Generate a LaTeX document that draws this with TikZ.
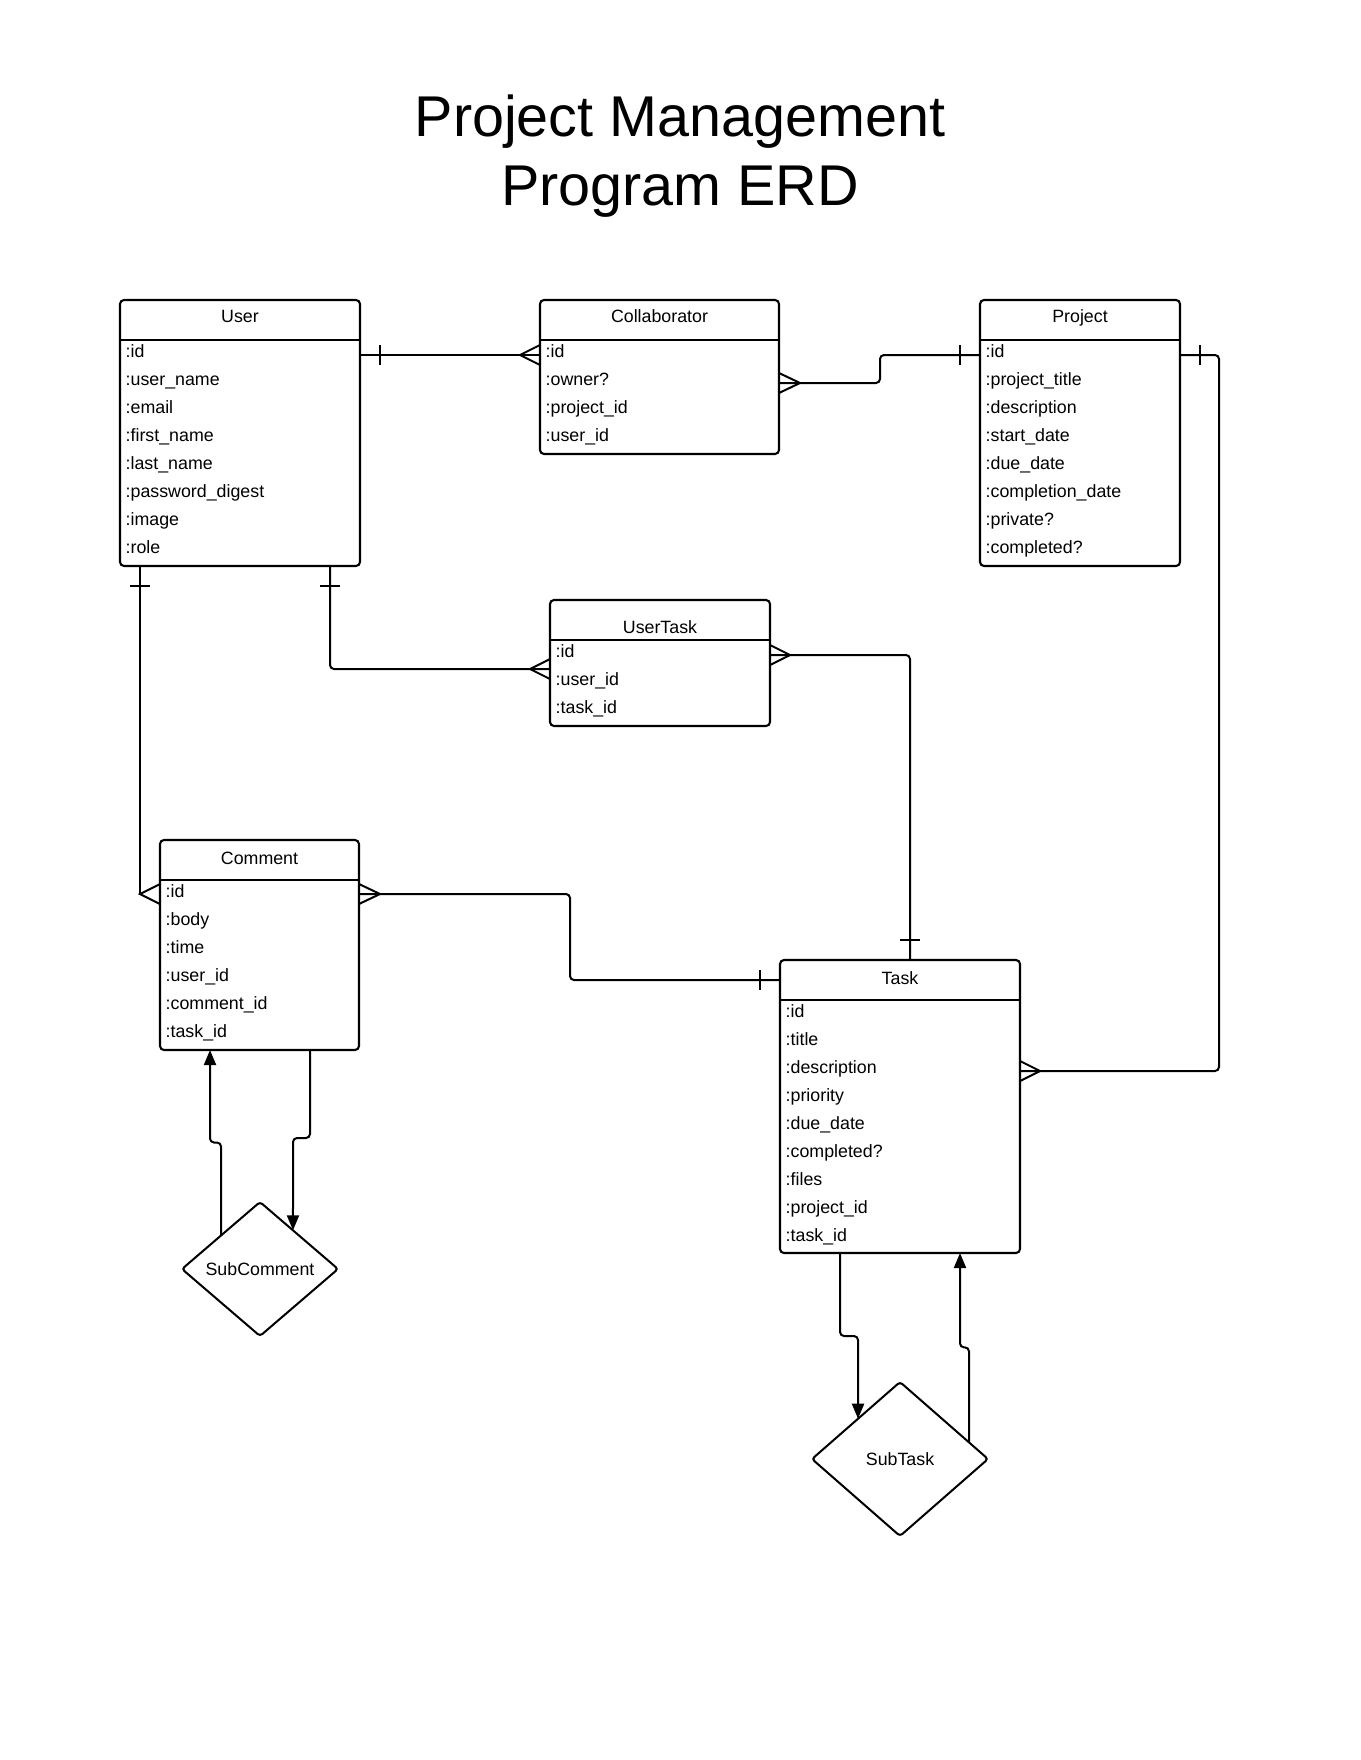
\documentclass[tikz,border=0pt]{standalone}
\usepackage{fontspec}
\setmainfont{Liberation Sans}
\usetikzlibrary{arrows.meta,shapes.geometric,calc}
\tikzset{
  entity/.style={draw, line width=2.1pt, rounded corners=4pt, inner sep=0pt, outer sep=0pt, anchor=north west},
  attr/.style={anchor=base west, inner sep=0pt, font=\fontsize{17.8}{20}\selectfont},
  head/.style={anchor=base, inner sep=0pt, font=\fontsize{17.8}{20}\selectfont},
  conn/.style={line width=2pt, rounded corners=4pt},
  tickmark/.style={line width=2pt},
  crow/.style={line width=2pt, line join=miter},
  arr/.style={line width=2pt, rounded corners=4pt, -{Triangle[length=15pt,width=12pt]}},
  rel/.style={diamond, draw, line width=2pt, rounded corners=3pt, inner sep=0pt, outer sep=0pt, font=\fontsize{17.8}{20}\selectfont},
}
\newcommand\erbox[8]{%
  \node[entity, minimum width=#4pt, minimum height=#5pt] (#1) at (#2,#3) {};
  \draw[line width=2.1pt] ($(#1.north west)+(0,40)$) -- ($(#1.north east)+(0,40)$);
  \node[head] (#1-title) at ($(#1.north)+(0,#6)$) {#7};
  \foreach \t [count=\i from 0] in {#8} \node[attr] (#1-r\i) at ($(#1.north west)+(5.5,57+28*\i)$) {\t};
}
\begin{document}
\begin{tikzpicture}[x=1pt,y=-1pt]
\fill[white] (0,0) rectangle (1360,1760);
\useasboundingbox (0,0) rectangle (1360,1760);

% title
\node[anchor=base, inner sep=0pt, font=\fontsize{57.5}{69}\selectfont] (title1) at (680,137) {Project Management};
\node[anchor=base, inner sep=0pt, font=\fontsize{57.5}{69}\selectfont] (title2) at (680,206) {Program ERD};

% entities
\erbox{user}{120}{300}{240}{266}{23}{User}{:id,:user\_name,:email,:first\_name,:last\_name,:password\_digest,:image,:role}
\erbox{collab}{540}{300}{239}{154}{23}{Collaborator}{:id,:owner?,:project\_id,:user\_id}
\erbox{project}{980}{300}{200}{266}{23}{Project}{:id,:project\_title,:description,:start\_date,:due\_date,:completion\_date,:private?,:completed?}
\erbox{usertask}{550}{600}{220}{126}{33}{UserTask}{:id,:user\_id,:task\_id}
\erbox{comment}{160}{840}{199}{210}{24}{Comment}{:id,:body,:time,:user\_id,:comment\_id,:task\_id}
\erbox{task}{780}{960}{240}{293}{24}{Task}{:id,:title,:description,:priority,:due\_date,:completed?,:files,:project\_id,:task\_id}

% relationship diamonds
\node[rel, minimum width=156pt, minimum height=134pt] (subcomment) at (260,1269) {SubComment};
\node[rel, minimum width=176pt, minimum height=154pt] (subtask) at (900,1459) {SubTask};

% User -- Collaborator
\draw[conn] ($(user.north east)+(0,55)$) -- ($(collab.north west)+(0,55)$);
\draw[tickmark] ($(user.north east)+(20,45)$) -- ++(0,20);
\draw[crow] ($(collab.north west)+(0,45)$) -- ($(collab.north west)+(-20,55)$) -- ($(collab.north west)+(0,65)$);

% Collaborator -- Project
\draw[conn] ($(collab.north east)+(0,83)$) -- ++(101,0) |- ($(project.north west)+(0,55)$);
\draw[crow] ($(collab.north east)+(0,73)$) -- ($(collab.north east)+(21,83)$) -- ($(collab.north east)+(0,93)$);
\draw[tickmark] ($(project.north west)+(-20,45)$) -- ++(0,20);

% Project -- Task
\draw[conn] ($(project.north east)+(0,55)$) -- ++(39,0) |- ($(task.north east)+(0,111)$);
\draw[tickmark] ($(project.north east)+(20,45)$) -- ++(0,20);
\draw[crow] ($(task.north east)+(0,101)$) -- ($(task.north east)+(20,111)$) -- ($(task.north east)+(0,121)$);

% User -- Comment
\draw[conn] ($(user.south west)+(20,0)$) -- ($(comment.north west)+(-20,54)$);
\draw[tickmark] ($(user.south west)+(10,20)$) -- ++(20,0);
\draw[crow] ($(comment.north west)+(0,44)$) -- ($(comment.north west)+(-20,54)$) -- ($(comment.north west)+(0,64)$);

% User -- UserTask
\draw[conn] ($(user.south west)+(210,0)$) |- ($(usertask.north west)+(0,69)$);
\draw[tickmark] ($(user.south west)+(200,20)$) -- ++(20,0);
\draw[crow] ($(usertask.north west)+(0,59)$) -- ($(usertask.north west)+(-20,69)$) -- ($(usertask.north west)+(0,79)$);

% UserTask -- Task
\draw[conn] ($(usertask.north east)+(0,55)$) -| ($(task.north west)+(130,0)$);
\draw[crow] ($(usertask.north east)+(0,45)$) -- ($(usertask.north east)+(20,55)$) -- ($(usertask.north east)+(0,65)$);
\draw[tickmark] ($(task.north west)+(120,-20)$) -- ++(20,0);

% Comment -- Task
\draw[conn] ($(comment.north east)+(0,54)$) -- ++(211,0) |- ($(task.north west)+(0,20)$);
\draw[crow] ($(comment.north east)+(0,44)$) -- ($(comment.north east)+(21,54)$) -- ($(comment.north east)+(0,64)$);
\draw[tickmark] ($(task.north west)+(-20,10)$) -- ++(0,20);

% SubComment loops
\draw[arr] ($(subcomment.north)!0.5!(subcomment.west)$) -- ++(0,-93) -- ++(-11,0) -- ($(comment.south west)+(50,0)$);
\draw[arr] ($(comment.south west)+(150,0)$) -- ++(0,88) -- ++(-17,0) -- ($(subcomment.north)!0.423!(subcomment.east)$);

% SubTask loops
\draw[arr] ($(task.south west)+(60,0)$) -- ++(0,83) -- ++(18,0) -- ($(subtask.north)!0.477!(subtask.west)$);
\draw[arr] ($(subtask.north)!0.784!(subtask.east)$) -- ++(0,-95) -- ++(-9,0) -- ($(task.south west)+(180,0)$);
\end{tikzpicture}
\end{document}
